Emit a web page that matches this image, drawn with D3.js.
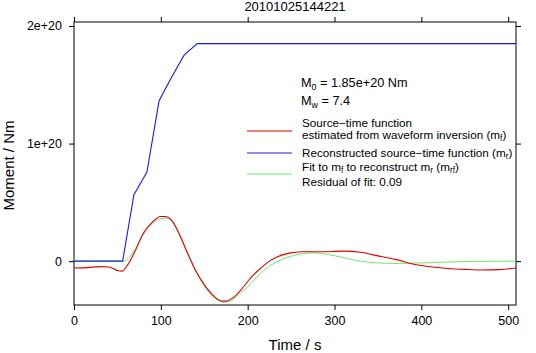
<!DOCTYPE html>
<html>
<head>
<meta charset="utf-8">
<script src="https://cdn.jsdelivr.net/npm/d3@7"></script>
<style>
  body { margin: 0; background: #fff; }
  svg { font-family: "Liberation Sans", Arial, sans-serif; }
</style>
</head>
<body>
<svg id="drawing_region"></svg>
<script>
// time (s) and moment (units of 1e20 Nm)
const red_t = [0, 15, 30, 40, 50, 55, 62, 70, 80, 90, 100, 105, 112, 120, 130, 140, 150, 160, 170, 175, 185, 195, 205, 215, 225, 235, 250, 265, 285, 310, 330, 350, 370, 390, 410, 430, 450, 470, 490, 509];
const red_v = [-0.058, -0.055, -0.047, -0.05, -0.08, -0.085, -0.03, 0.08, 0.24, 0.33, 0.38, 0.38, 0.35, 0.25, 0.08, -0.08, -0.2, -0.29, -0.34, -0.34, -0.3, -0.22, -0.13, -0.06, 0.0, 0.04, 0.07, 0.08, 0.08, 0.085, 0.075, 0.045, 0.015, -0.025, -0.048, -0.062, -0.07, -0.075, -0.072, -0.058];

const blue_t = [0, 56, 69, 84, 98, 112, 127, 142, 509];
const blue_v = [0, 0, 0.565, 0.757, 1.364, 1.56, 1.754, 1.85, 1.85];

const green_t = [0, 56, 62, 70, 80, 90, 100, 107, 115, 125, 135, 145, 155, 165, 173, 182, 192, 200, 210, 220, 230, 245, 260, 275, 290, 310, 330, 350, 375, 400, 430, 460, 509];
const green_v = [0, 0, 0.02, 0.1, 0.23, 0.32, 0.36, 0.365, 0.32, 0.17, 0.0, -0.15, -0.26, -0.33, -0.35, -0.33, -0.27, -0.22, -0.14, -0.07, -0.02, 0.03, 0.06, 0.07, 0.06, 0.03, 0.0, -0.015, -0.02, -0.015, -0.007, -0.002, 0];

const x_ticks = [0, 100, 200, 300, 400, 500];
const y_ticks = [0, 1e20, 2e20];
const y_labels = ["0", "1e+20", "2e+20"];

const title = "20101025144221";
const scale = 1e20;

const config = {
    width: 536,
    height: 353,
    margin: { top: 22, right: 20, bottom: 48, left: 74 }
};

const svg = d3.select('#drawing_region')
    .attr('width', config.width)
    .attr('height', config.height);

const inner_width = config.width - config.margin.left - config.margin.right;
const inner_height = config.height - config.margin.top - config.margin.bottom;

const chart = svg.append('g')
    .attr('transform', `translate(${config.margin.left}, ${config.margin.top})`);

const xscale = d3.scaleLinear().domain([0, 509]).range([0, inner_width]);
const yscale = d3.scaleLinear().domain([-0.373e20, 2.034e20]).range([inner_height, 0]);

// axes on all four sides, ticks pointing outward
const styleAxis = g => {
    g.select('.domain').remove();
    g.selectAll('line').attr('stroke', '#000');
    g.selectAll('text').attr('font-size', 12.5).attr('fill', '#000');
};

chart.append('g')
    .attr('transform', `translate(0, ${inner_height})`)
    .call(d3.axisBottom(xscale).tickValues(x_ticks).tickSize(5).tickPadding(6))
    .call(styleAxis);
chart.append('g')
    .call(d3.axisTop(xscale).tickValues(x_ticks).tickSize(5).tickFormat(''))
    .call(styleAxis);
chart.append('g')
    .call(d3.axisLeft(yscale).tickValues(y_ticks).tickSize(5).tickPadding(7)
        .tickFormat((d, i) => y_labels[i]))
    .call(styleAxis);
chart.append('g')
    .attr('transform', `translate(${inner_width}, 0)`)
    .call(d3.axisRight(yscale).tickValues(y_ticks).tickSize(5).tickFormat(''))
    .call(styleAxis);

chart.append('rect')
    .attr('x', 0).attr('y', 0)
    .attr('width', inner_width).attr('height', inner_height)
    .attr('fill', 'none').attr('stroke', '#000').attr('stroke-width', 1);

const smooth = d3.line()
    .x(d => xscale(d[0]))
    .y(d => yscale(d[1] * scale))
    .curve(d3.curveMonotoneX);
const straight = d3.line()
    .x(d => xscale(d[0]))
    .y(d => yscale(d[1] * scale));

chart.append('clipPath').attr('id', 'plotclip')
    .append('rect').attr('width', inner_width).attr('height', inner_height);

const lines = chart.append('g').attr('clip-path', 'url(#plotclip)');

lines.append('path')
    .datum(d3.zip(green_t, green_v))
    .attr('d', smooth)
    .attr('fill', 'none').attr('stroke', '#6ee66e').attr('stroke-width', 1);
lines.append('path')
    .datum(d3.zip(red_t, red_v))
    .attr('d', smooth)
    .attr('fill', 'none').attr('stroke', '#e00000').attr('stroke-width', 1.1);
lines.append('path')
    .datum(d3.zip(blue_t, blue_v))
    .attr('d', straight)
    .attr('fill', 'none').attr('stroke', '#1a1ae0').attr('stroke-width', 1.1);

// titles
svg.append('text')
    .attr('x', config.margin.left + inner_width / 2).attr('y', 11)
    .attr('text-anchor', 'middle').attr('font-size', 13)
    .text(title);
svg.append('text')
    .attr('x', config.margin.left + inner_width / 2).attr('y', 350)
    .attr('text-anchor', 'middle').attr('font-size', 15)
    .text('Time / s');
svg.append('text')
    .attr('transform', `translate(14, ${config.margin.top + inner_height / 2 + 2}) rotate(-90)`)
    .attr('text-anchor', 'middle').attr('font-size', 15)
    .text('Moment / Nm');

// annotation / legend
const leg = svg.append('g');
const sub = (t, parts, size) => {
    parts.forEach(p => {
        if (p.sub) {
            t.append('tspan').attr('baseline-shift', '-30%').attr('font-size', size * 0.7).text(p.sub);
        } else {
            t.append('tspan').text(p.t);
        }
    });
};

let t = leg.append('text').attr('x', 301).attr('y', 87).attr('font-size', 12.7);
sub(t, [{ t: 'M' }, { sub: '0' }, { t: ' = 1.85e+20 Nm' }], 12.7);
t = leg.append('text').attr('x', 301).attr('y', 105).attr('font-size', 12.7);
sub(t, [{ t: 'M' }, { sub: 'w' }, { t: ' = 7.4' }], 12.7);

const legend_items = [
    { color: '#e00000', y: 131, rows: [
        [{ t: 'Source−time function' }],
        [{ t: 'estimated from waveform inversion (m' }, { sub: 'f' }, { t: ')' }]
    ], ty: [127, 139] },
    { color: '#1a1ae0', y: 153, rows: [
        [{ t: 'Reconstructed source−time function (m' }, { sub: 'r' }, { t: ')' }]
    ], ty: [157] },
    { color: '#6ee66e', y: 174, rows: [
        [{ t: 'Fit to m' }, { sub: 'f' }, { t: ' to reconstruct m' }, { sub: 'r' }, { t: ' (m' }, { sub: 'rf' }, { t: ')' }],
        [{ t: 'Residual of fit: 0.09' }]
    ], ty: [171, 186] }
];

legend_items.forEach(item => {
    leg.append('line')
        .attr('x1', 247).attr('x2', 292)
        .attr('y1', item.y).attr('y2', item.y)
        .attr('stroke', item.color).attr('stroke-width', 1.1);
    item.rows.forEach((row, i) => {
        const tt = leg.append('text').attr('x', 302).attr('y', item.ty[i]).attr('font-size', 11.7);
        sub(tt, row, 11.7);
    });
});
</script>
</body>
</html>
